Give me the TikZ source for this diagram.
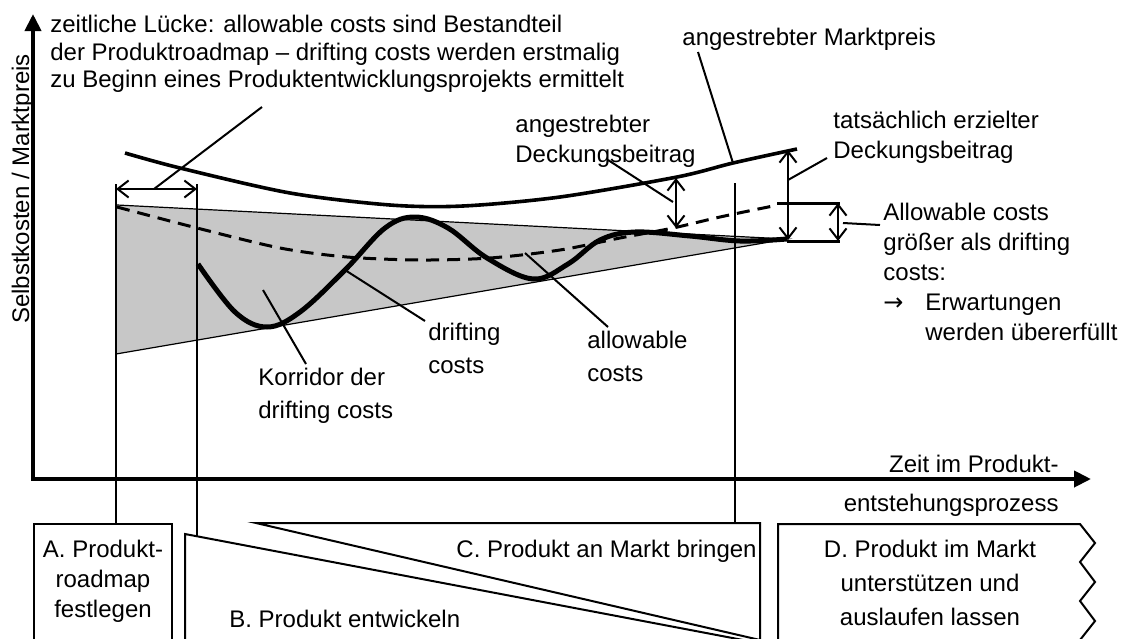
\documentclass[tikz,border=0pt]{standalone}
\usepackage{fontspec}
\setmainfont{Liberation Sans}
\newfontfamily\arrowfont{DejaVu Sans}
\usepackage{tikz}
\usetikzlibrary{arrows.meta,positioning}

\begin{document}
\begin{tikzpicture}[x=0.5pt,y=-0.5pt,
    lbl/.style={inner sep=0pt, align=left, font=\fontsize{12}{15}\selectfont},
    lead/.style={line width=1pt},
    span/.style={line width=1pt, {Straight Barb[length=5.5pt,width=8.5pt]}-{Straight Barb[length=5.5pt,width=8.5pt]}},
    axis/.style={line width=2pt, -{Triangle[length=8.5pt,width=8pt]}},
    phase/.style={line width=1pt}]

\useasboundingbox (0,0) rectangle (1130,638);

% Korridor der drifting costs
\fill[black!22] (117,205) -- (787,239) -- (116,354) -- cycle;
\draw[line width=0.6pt] (117,205) -- (787,239) -- (116,354);

% Achsen
\coordinate (origin) at (33,479);
\coordinate (ytip) at (33,14);
\coordinate (xtip) at (1091,479);
\draw[axis] (origin) -- (ytip);
\draw[axis] ([xshift=-1pt]origin) -- (xtip);

% Markierungen der Phasengrenzen
\coordinate (m1) at (116,184);
\coordinate (m2) at (197,184);
\coordinate (m3) at (735,183);
\coordinate (a1) at (116,524);
\coordinate (b1) at (197,536);
\coordinate (c1) at (735,523);
\draw[lead] (m1) -- (a1);
\draw[lead] (m2) -- (b1);
\draw[lead] (m3) -- (c1);

% Kurven
\draw[line width=1.8pt] plot[smooth] coordinates {(125,153) (180,168) (290,193) (390,205) (463,206) (560,197) (677,177) (733,163) (797,149)};
\draw[line width=1.5pt, dash pattern=on 6.5pt off 4pt] plot[smooth] coordinates {(117,207) (197,228) (280,248) (347,257) (420,260) (490,258) (560,250) (620,238) (673,228) (720,217) (773,206)};
\draw[line width=2.5pt, line join=round] plot[smooth, tension=0.6] coordinates {(198,264) (235,312) (267,327) (300,312) (345,270) (385,228) (415,217) (448,228) (487,258) (533,279) (568,264) (600,240) (635,232) (690,236) (740,241) (787,239)};

% zeitliche Luecke
\coordinate (g1) at (116,189);
\coordinate (g2) at (197,189);
\coordinate (gmid) at (154,189);
\draw[span] (g1) -- (g2);
\node[lbl, anchor=north west, font=\fontsize{12}{13.75}\selectfont] (gapnote) at (50,15)
    {zeitliche Lücke: allowable costs sind Bestandteil\\der Produktroadmap – drifting costs werden erstmalig\\zu Beginn eines Produktentwicklungsprojekts ermittelt};
\coordinate (gtxt) at (262,107);
\draw[lead] (gmid) -- (gtxt);

% Marktpreis
\node[lbl, anchor=base west] (mpreis) at (682,45) {angestrebter Marktpreis};
\coordinate (mpt) at (733,163);
\draw[lead] ([xshift=8pt,yshift=-3.5pt]mpreis.base west) -- (mpt);

% angestrebter Deckungsbeitrag
\coordinate (ad1) at (676,178);
\coordinate (ad2) at (676,228);
\draw[span] (ad1) -- (ad2);
\node[lbl, anchor=north west] (adb) at (515,115) {angestrebter\\Deckungsbeitrag};
\coordinate (adtxt) at (608,160);
\coordinate (adpt) at (673,202);
\draw[lead] (adtxt) -- (adpt);

% tatsaechlich erzielter Deckungsbeitrag
\coordinate (td1) at (788,150);
\coordinate (td2) at (788,240);
\draw[span] (td1) -- (td2);
\node[lbl, anchor=north west] (tdb) at (833,111) {tatsächlich erzielter\\Deckungsbeitrag};
\coordinate (tdpt) at (788,180);
\coordinate (tdtxt) at (827,158);
\draw[lead] (tdpt) -- (tdtxt);

% allowable > drifting
\coordinate (h1) at (777,203);
\coordinate (h2) at (840,203);
\coordinate (h3) at (787,241);
\coordinate (h4) at (840,241);
\draw[line width=1.5pt] (h1) -- (h2);
\draw[line width=1.5pt] (h3) -- (h4);
\coordinate (ac1) at (838,203);
\coordinate (ac2) at (838,241);
\draw[span] (ac1) -- (ac2);
\node[lbl, anchor=north west] (acnote) at (883,203)
    {Allowable costs\\größer als drifting\\costs:\\\makebox[21pt][l]{\arrowfont →}Erwartungen\\\hspace*{21pt}werden übererfüllt};
\coordinate (acpt) at (843,223);
\draw[lead] (acpt) -- ([shift={(-1.5pt,-11pt)}]acnote.north west);

% Beschriftungen im Korridor
\node[lbl, anchor=north west, font=\fontsize{12}{16.5}\selectfont] (korr) at (258,368) {Korridor der\\drifting costs};
\coordinate (korrpt) at (263,290);
\draw[lead] (korrpt) -- ([xshift=24pt,yshift=2pt]korr.north west);
\node[lbl, anchor=north west, font=\fontsize{12}{16.5}\selectfont] (drift) at (428,323) {drifting\\costs};
\coordinate (driftpt) at (345,270);
\draw[lead] (driftpt) -- ([shift={(-1.5pt,1pt)}]drift.north west);
\node[lbl, anchor=north west, font=\fontsize{12}{16.5}\selectfont] (allow) at (587,331) {allowable\\costs};
\coordinate (allowpt) at (525,253);
\draw[lead] (allowpt) -- ([xshift=10.5pt,yshift=2pt]allow.north west);

% Achsenbeschriftungen
\node[lbl, rotate=90, anchor=base] (ylab) at (29,189) {Selbstkosten / Marktpreis};
\node[lbl, align=right, anchor=north east, font=\fontsize{12}{19.5}\selectfont] (xlab) at (1059,455) {Zeit im Produkt-\\entstehungsprozess};

% Phasen
\draw[phase] (34,640) -- (34,524) -- (172,524) -- (172,640);
\draw[phase] (185,640) -- (185,534) -- (743,640);
\draw[phase] (256,523) -- (760,523) -- (760,640) -- cycle;
\draw[phase] (778,640) -- (778,524) -- (1080,524) -- (1095,543) -- (1080,562) -- (1095,582) -- (1080,601) -- (1095,621) -- (1080,640);
\node[lbl, align=center, anchor=north] (pa) at (103,540) {A. Produkt-\\roadmap\\festlegen};
\node[lbl, anchor=base west] (pb) at (229,627) {B. Produkt entwickeln};
\node[lbl, anchor=base east] (pc) at (757,557) {C. Produkt an Markt bringen};
\node[lbl, align=center, anchor=north, font=\fontsize{12}{17}\selectfont] (pd) at (930,540) {D. Produkt im Markt\\unterstützen und\\auslaufen lassen};

\end{tikzpicture}
\end{document}
